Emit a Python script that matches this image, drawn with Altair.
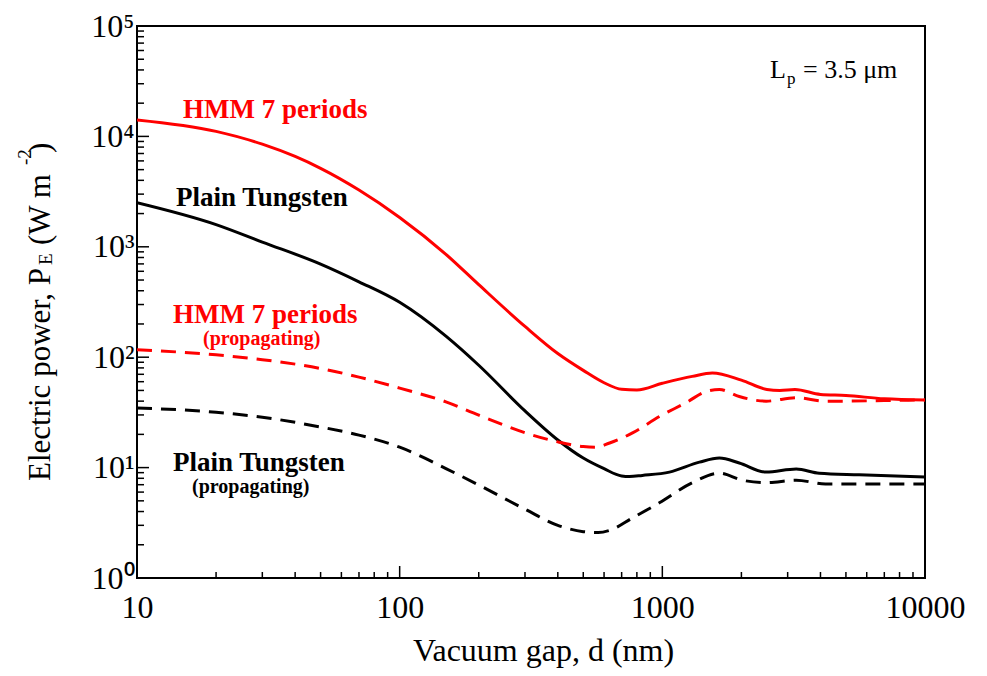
import altair as alt
import pandas as pd

# ---------------- data ----------------
hmm_d = [10, 20, 30, 40, 50, 70, 100, 150, 200, 300, 400, 500, 600, 700, 800,
         1000, 1300, 1550, 2000, 2500, 2800, 3200, 4000, 5000, 7000, 10000]
hmm_p = [14100, 11100, 8510, 6580, 5140, 3270, 1845, 855, 454, 190, 108, 76, 58.7, 51.2, 50.5,
         58, 67, 72, 62, 51, 50, 51, 46, 45, 42, 41]

hmm_prop_d = [10, 20, 30, 50, 70, 100, 150, 200, 300, 400, 500, 560, 630, 770, 974,
              1237, 1470, 1649, 1963, 2486, 3235, 4180, 5000, 7000, 10000]
hmm_prop_p = [117, 105, 95, 79, 66, 52.5, 39.4, 29.9, 20.7, 17.1, 15.5, 15.3, 16.7, 20.6, 29,
              39, 49, 51, 44, 40, 43, 40, 40, 40.5, 41]

w_d = [10, 20, 30, 50, 70, 100, 150, 200, 300, 400, 500, 600, 700, 750, 839,
       1064, 1384, 1649, 1963, 2486, 3235, 3956, 5613, 10000]
w_p = [2510, 1590, 1104, 697, 482, 314, 155, 84.5, 32.6, 17.8, 12.2, 9.77, 8.4, 8.3, 8.5,
       9.1, 11.2, 12.2, 11, 9.1, 9.7, 8.9, 8.6, 8.2]

w_prop_d = [10, 20, 30, 50, 70, 100, 150, 200, 300, 400, 500, 570, 630, 770, 974, 1300,
            1649, 2010, 2486, 3235, 4180, 10000]
w_prop_p = [34.7, 31.7, 28.6, 23.3, 19.7, 15.3, 9.8, 6.95, 4.2, 3.0, 2.63, 2.58, 2.7, 3.5, 4.8, 7.3,
            8.9, 7.7, 7.3, 7.7, 7.1, 7.1]

x_major = [10, 100, 1000, 10000]
x_minor = [m * 10 ** k for k in (1, 2, 3) for m in range(2, 10)]
y_major = [1, 10, 100, 1000, 10000, 100000]
y_minor = [m * 10 ** k for k in (0, 1, 2, 3, 4) for m in range(2, 10)]

FONT = "Liberation Serif"
W, H = 788, 552
RED = "#ff0000"

# ---------------- scales / axes ----------------
x_axis = alt.Axis(values=x_major, labelExpr="'' + datum.value", ticks=False, domain=False,
                  grid=False, labelFont=FONT, labelFontSize=32, labelPadding=14,
                  labelColor="black", title="Vacuum gap, d (nm)", titleFont=FONT,
                  titleFontSize=32, titleFontWeight="normal", titleColor="black",
                  titlePadding=12, titleX=406, labelFlush=False)
sup = "['\u2070','\u00b9','\u00b2','\u00b3','\u2074','\u2075'][round(log(datum.value)/LN10)]"
y_axis = alt.Axis(values=y_major, labelExpr="'10' + " + sup, ticks=False, domain=False,
                  grid=False, labelFont=FONT, labelFontSize=32, labelPadding=3,
                  labelColor="black", title=None, labelFlush=False)

X = alt.X("d:Q", scale=alt.Scale(type="log", domain=[10, 10000]), axis=x_axis)
Y = alt.Y("P:Q", scale=alt.Scale(type="log", domain=[1, 100000]), axis=y_axis)


def line(d, p, color, dash=None):
    df = pd.DataFrame({"d": d, "P": p})
    kw = dict(color=color, strokeWidth=3, interpolate="monotone", clip=True)
    if dash:
        kw["strokeDash"] = dash
    return alt.Chart(df).mark_line(**kw).encode(x=X, y=Y)


lines = [
    line(hmm_d, hmm_p, RED),
    line(w_d, w_p, "black"),
    line(hmm_prop_d, hmm_prop_p, RED, [15, 9]),
    line(w_prop_d, w_prop_p, "black", [15, 9]),
]


def yticks(vals, size):
    return alt.Chart(pd.DataFrame({"P": vals})).mark_rule(color="black", strokeWidth=1.5).encode(
        y=Y, x=alt.value(0), x2=alt.value(size))


def xticks(vals, size):
    return alt.Chart(pd.DataFrame({"d": vals})).mark_rule(color="black", strokeWidth=1.5).encode(
        x=X, y=alt.value(H), y2=alt.value(H - size))


ticks = [yticks(y_major, 12), yticks(y_minor, 7), xticks(x_major, 12), xticks(x_minor, 6)]


def txt(s, x, y, size, color="black", weight="normal", align="left", baseline="middle", angle=0):
    kw = dict(text=s, font=FONT, fontSize=size, color=color, fontWeight=weight,
              align=align, baseline=baseline)
    if angle:
        kw["angle"] = angle
    return alt.Chart(pd.DataFrame({"a": [0]})).mark_text(**kw).encode(
        x=alt.value(x), y=alt.value(y))


OX, OY = 137, 26  # plot origin in page pixels
labels = [
    txt("HMM 7 periods", 183 - OX, 110 - OY, 27, RED, "bold"),
    txt("Plain Tungsten", 176 - OX, 198 - OY, 27, "black", "bold"),
    txt("HMM 7 periods", 173 - OX, 315 - OY, 27, RED, "bold"),
    txt("(propagating)", 203 - OX, 339 - OY, 20, RED, "bold"),
    txt("Plain Tungsten", 173 - OX, 463 - OY, 27, "black", "bold"),
    txt("(propagating)", 192 - OX, 487 - OY, 20, "black", "bold"),
    # L_p = 3.5 um
    txt("L", 770 - OX, 78 - OY, 26, baseline="alphabetic"),
    txt("p", 787 - OX, 84 - OY, 17, baseline="alphabetic"),
    txt("= 3.5 \u03bcm", 803 - OX, 78 - OY, 26, baseline="alphabetic"),
    # y title pieces (rotated)
    txt("Electric power, P", 50 - OX, 481 - OY, 31, baseline="alphabetic", angle=270),
    txt("E", 52 - OX, 265 - OY, 19, baseline="alphabetic", angle=270),
    txt("(W m", 50 - OX, 245 - OY, 31, baseline="alphabetic", angle=270),
    txt("-2", 31 - OX, 165 - OY, 19, baseline="alphabetic", angle=270),
    txt(")", 50 - OX, 153 - OY, 31, baseline="alphabetic", angle=270),
]

chart = alt.layer(*ticks, *lines, *labels).properties(
    width=W, height=H,
    autosize=alt.AutoSizeParams(type="none"),
    padding={"left": OX, "top": OY, "right": 987 - OX - W, "bottom": 676 - OY - H},
    background="white",
).configure(font=FONT).configure_view(stroke="black", strokeWidth=2).configure_text(
    font=FONT).configure_axis(labelFont=FONT, titleFont=FONT)

chart.save("out.html", embed_options={"renderer": "svg", "actions": False})
